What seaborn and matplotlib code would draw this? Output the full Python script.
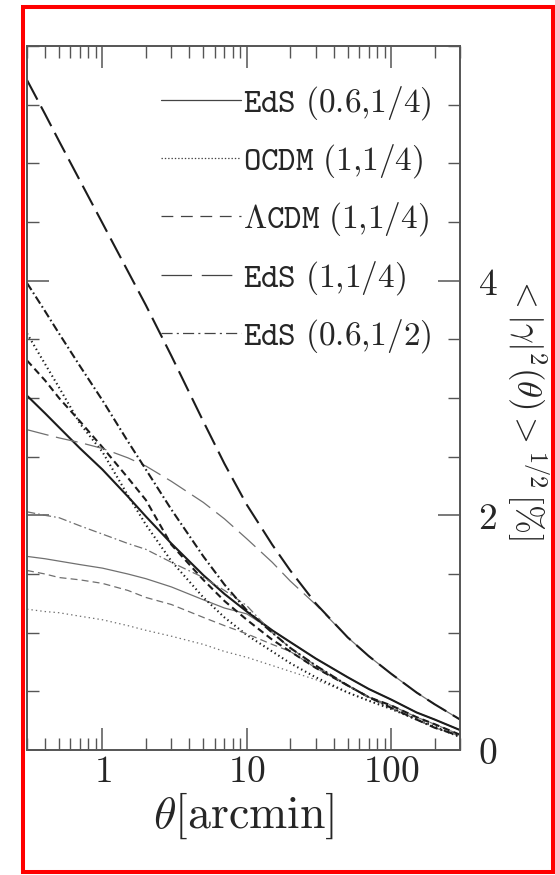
import numpy as np
import pandas as pd
import matplotlib
matplotlib.use("Agg")
import matplotlib.pyplot as plt
import seaborn as sns
from matplotlib.lines import Line2D
from matplotlib.patches import Rectangle
from matplotlib.ticker import FixedLocator, FuncFormatter, LogLocator, MultipleLocator, NullFormatter

# ---------------- data ----------------
theta = [0.3, 0.4, 0.5, 0.7, 1, 1.5, 2, 3, 5, 7, 10, 15, 20, 30, 50, 70, 100, 150, 200, 300]

# thick curves
eds_06_14_a = [3.02, 2.87, 2.75, 2.57, 2.39, 2.16, 1.99, 1.76, 1.49, 1.33, 1.18, 1.02, 0.92, 0.78, 0.62, 0.52, 0.43, 0.32, 0.26, 0.17]
ocdm_a      = [3.55, 3.29, 3.09, 2.78, 2.54, 2.17, 1.92, 1.61, 1.30, 1.13, 0.98, 0.84, 0.74, 0.62, 0.49, 0.42, 0.35, 0.26, 0.20, 0.11]
lcdm_a      = [3.32, 3.15, 3.00, 2.80, 2.58, 2.32, 2.13, 1.75, 1.45, 1.27, 1.11, 0.94, 0.84, 0.70, 0.55, 0.45, 0.38, 0.28, 0.22, 0.13]
eds_1_14_a  = [5.71, 5.42, 5.19, 4.85, 4.49, 4.08, 3.79, 3.36, 2.80, 2.44, 2.09, 1.75, 1.53, 1.25, 0.96, 0.80, 0.65, 0.49, 0.39, 0.26]
eds_06_12_a = [3.98, 3.74, 3.55, 3.27, 2.98, 2.63, 2.39, 2.05, 1.65, 1.41, 1.19, 1.00, 0.87, 0.72, 0.55, 0.45, 0.36, 0.26, 0.19, 0.12]

# thin curves
eds_06_14_b = [1.65, 1.63, 1.61, 1.58, 1.55, 1.50, 1.46, 1.39, 1.28, 1.21, 1.16, 1.02, 0.92, 0.78, 0.62, 0.52, 0.43, 0.32, 0.26, 0.17]
ocdm_b      = [1.20, 1.18, 1.17, 1.14, 1.11, 1.06, 1.02, 0.97, 0.90, 0.84, 0.79, 0.72, 0.67, 0.60, 0.49, 0.42, 0.35, 0.26, 0.20, 0.11]
lcdm_b      = [1.53, 1.50, 1.47, 1.45, 1.42, 1.36, 1.30, 1.24, 1.13, 1.06, 0.99, 0.90, 0.84, 0.70, 0.55, 0.45, 0.38, 0.28, 0.22, 0.13]
eds_1_14_b  = [2.73, 2.69, 2.66, 2.62, 2.57, 2.49, 2.42, 2.29, 2.11, 1.97, 1.80, 1.60, 1.44, 1.24, 0.96, 0.80, 0.65, 0.49, 0.39, 0.26]
eds_06_12_b = [2.03, 2.00, 1.98, 1.91, 1.84, 1.76, 1.71, 1.60, 1.47, 1.36, 1.23, 1.00, 0.87, 0.72, 0.55, 0.45, 0.36, 0.26, 0.19, 0.12]

models = ["EdS (0.6,1/4)", "OCDM (1,1/4)", "LCDM (1,1/4)", "EdS (1,1/4)", "EdS (0.6,1/2)"]
legend_labels = [r"$\mathtt{EdS\ (0.6{,}1/4)}$", r"$\mathtt{OCDM\ (1{,}1/4)}$",
                 r"$\Lambda\mathtt{CDM\ (1{,}1/4)}$", r"$\mathtt{EdS\ (1{,}1/4)}$",
                 r"$\mathtt{EdS\ (0.6{,}1/2)}$"]
thick_vals = [eds_06_14_a, ocdm_a, lcdm_a, eds_1_14_a, eds_06_12_a]
thin_vals = [eds_06_14_b, ocdm_b, lcdm_b, eds_1_14_b, eds_06_12_b]

rows = []
for m, a, b in zip(models, thick_vals, thin_vals):
    for t, va, vb in zip(theta, a, b):
        rows.append((m, "thick", t, va))
        rows.append((m, "thin", t, vb))
df = pd.DataFrame(rows, columns=["model", "kind", "theta", "value"])

# ---------------- style ----------------
sns.set_theme(style="ticks")
plt.rcParams["font.family"] = ["DejaVu Serif"]
plt.rcParams["mathtext.fontset"] = "cm"
plt.rcParams["lines.scale_dashes"] = False

styles = {
    "EdS (0.6,1/4)": "-",
    "OCDM (1,1/4)": (0, (1.0, 2.2)),
    "LCDM (1,1/4)": (0, (5.0, 3.0)),
    "EdS (1,1/4)": (0, (16.0, 5.5)),
    "EdS (0.6,1/2)": (0, (6.0, 2.2, 1.2, 2.2)),
}
leg_styles = {
    "EdS (0.6,1/4)": "-",
    "OCDM (1,1/4)": (0, (1.0, 1.4)),
    "LCDM (1,1/4)": (0, (8.5, 5.5)),
    "EdS (1,1/4)": (0, (22.0, 7.0)),
    "EdS (0.6,1/2)": (0, (8.0, 3.0, 1.5, 3.0)),
}

W, H = 555, 875
fig = plt.figure(figsize=(W / 100, H / 100), dpi=100)
ax = fig.add_axes([27 / W, 1 - 750 / H, (460 - 27) / W, (750 - 46) / H])

for m in models:
    for kind in ["thin", "thick"]:
        sub = df[(df.model == m) & (df.kind == kind)]
        if kind == "thick":
            col, lw = "#1c1c1c", 1.5
        else:
            col, lw = "#707070", 0.9
        sns.lineplot(data=sub, x="theta", y="value", ax=ax, color=col, lw=lw,
                     linestyle=styles[m], estimator=None, sort=False, legend=False)

ax.set_xscale("log")
ax.set_xlim(0.3, 300)
ax.set_ylim(0, 6)

# ticks
ax.xaxis.set_major_locator(FixedLocator([1, 10, 100]))
ax.xaxis.set_minor_locator(LogLocator(base=10, subs=np.arange(2, 10)))
ax.xaxis.set_major_formatter(FuncFormatter(lambda v, p: f"${v:g}$"))
ax.xaxis.set_minor_formatter(NullFormatter())
ax.yaxis.set_major_locator(FixedLocator([0, 2, 4]))
ax.yaxis.set_minor_locator(MultipleLocator(0.5))
ax.yaxis.set_major_formatter(FuncFormatter(lambda v, p: f"${v:g}$"))

ax.tick_params(which="both", direction="in", top=True, bottom=True, left=True, right=True,
               labelleft=False, labelright=True, labelbottom=True, labeltop=False,
               color="#555555", labelsize=27)
ax.tick_params(which="major", length=16, width=1.1)
ax.tick_params(which="minor", length=8.5, width=1.0)
ax.tick_params(axis="x", which="major", pad=3)
ax.tick_params(axis="y", which="major", pad=13)
for s in ax.spines.values():
    s.set_color("#555555")
    s.set_linewidth(1.4)

ax.set_xlabel(r"$\theta[\mathrm{arcmin}]$", fontsize=33, labelpad=0)
ax.yaxis.set_label_position("right")
ax.set_ylabel(r"${<}|\gamma|^2(\theta){>}^{1/2}\,[\%]$", fontsize=25, rotation=270,
              va="center", ha="center", rotation_mode="anchor")
ax.yaxis.set_label_coords(1.155, 0.487)

handles = [Line2D([], [], color="#444444", lw=0.9, linestyle=leg_styles[m]) for m in models]
ax.legend(handles, legend_labels, loc="upper right", bbox_to_anchor=(0.935, 0.946),
          frameon=False, fontsize=24, handlelength=2.4, handletextpad=0.05,
          labelspacing=0.61, borderaxespad=0, borderpad=0)

fig.add_artist(Rectangle((23 / W, 1 - 872 / H), (553 - 23) / W, (872 - 7) / H,
                         transform=fig.transFigure, fill=False, ec="red", lw=2.9))

fig.savefig("out.png", dpi=100)
